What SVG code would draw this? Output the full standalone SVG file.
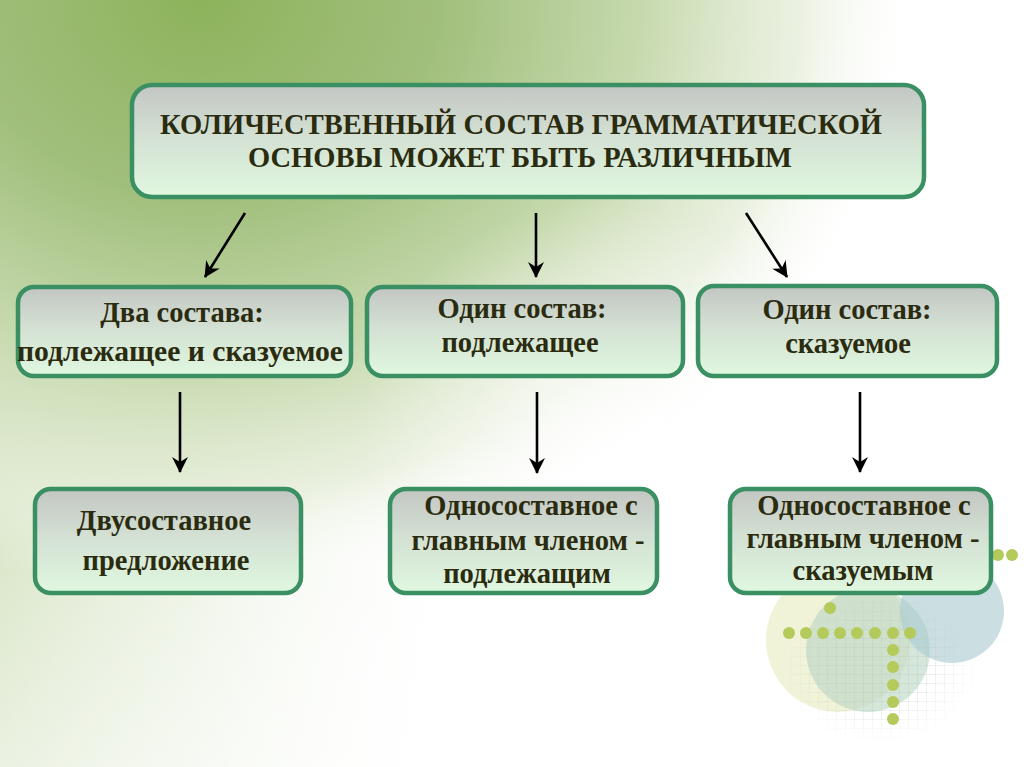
<svg xmlns="http://www.w3.org/2000/svg" width="1024" height="767" viewBox="0 0 1024 767">
<defs>
<radialGradient id="bg" cx="200" cy="0" r="800" gradientUnits="userSpaceOnUse" gradientTransform="translate(200 0) scale(1 0.82) translate(-200 0)">
<stop offset="0" stop-color="#8db35c"/>
<stop offset="0.3" stop-color="#a1bf7c"/>
<stop offset="0.55" stop-color="#c6d9ad"/>
<stop offset="0.75" stop-color="#e2ebd4" stop-opacity="0.7"/>
<stop offset="0.9" stop-color="#ffffff" stop-opacity="0"/>
</radialGradient>
<linearGradient id="left" x1="0" y1="0" x2="560" y2="80" gradientUnits="userSpaceOnUse">
<stop offset="0" stop-color="#cfdfb8"/>
<stop offset="0.5" stop-color="#e4edd8" stop-opacity="0.6"/>
<stop offset="1" stop-color="#ffffff" stop-opacity="0"/>
</linearGradient>
<linearGradient id="fadeb" x1="0" y1="0" x2="0" y2="1">
<stop offset="0.7" stop-color="#ffffff" stop-opacity="0"/>
<stop offset="1" stop-color="#ffffff" stop-opacity="0.4"/>
</linearGradient>
<radialGradient id="glow" cx="600" cy="440" r="240" gradientUnits="userSpaceOnUse">
<stop offset="0" stop-color="#ffffff" stop-opacity="0.7"/>
<stop offset="1" stop-color="#ffffff" stop-opacity="0"/>
</radialGradient>
<linearGradient id="boxfill" x1="0" y1="0" x2="0" y2="1">
<stop offset="0" stop-color="#c3c6c3"/>
<stop offset="0.45" stop-color="#d3e0d3"/>
<stop offset="1" stop-color="#e0f8e0"/>
</linearGradient>
<pattern id="grid" width="9" height="9" patternUnits="userSpaceOnUse">
<path d="M9 0V9M0 9H9" fill="none" stroke="#b8c4bc" stroke-width="0.8"/>
</pattern>
<radialGradient id="gridfade" cx="0.5" cy="0.5" r="0.5">
<stop offset="0.5" stop-color="#fff" stop-opacity="1"/>
<stop offset="1" stop-color="#fff" stop-opacity="0"/>
</radialGradient>
<mask id="gm"><rect x="780" y="585" width="200" height="160" fill="url(#gridfade)"/></mask>
<marker id="ah" viewBox="0 0 16 16" refX="15" refY="8" markerWidth="16" markerHeight="16" markerUnits="userSpaceOnUse" orient="auto">
<path d="M0 0 L16 8 L0 16 L5 8 Z" fill="#000"/>
</marker>
<style>
.box{fill:url(#boxfill);stroke:#3a8f63;stroke-width:4.5}
.t{font-family:"Liberation Serif","Times New Roman",serif;font-weight:bold;fill:#2b2b0f;text-anchor:middle}
.t1{font-size:30px}
.t2{font-size:28.5px}
.con{stroke:#000;stroke-width:2.6;fill:none;marker-end:url(#ah)}
.dot{fill:#b4cb5c}
</style>
</defs>
<rect width="1024" height="767" fill="#ffffff"/>
<rect width="1024" height="767" fill="url(#left)"/>
<rect width="1024" height="767" fill="url(#bg)"/>
<rect width="1024" height="767" fill="url(#glow)"/>
<rect width="1024" height="767" fill="url(#fadeb)"/>
<g id="decor">
<circle cx="838" cy="640" r="72" fill="#eef0cf" opacity="0.8"/>
<circle cx="868" cy="650" r="62" fill="#b9d5c3" opacity="0.6"/>
<circle cx="952" cy="611" r="52" fill="#a9c9d1" opacity="0.6"/>
<rect x="780" y="585" width="200" height="160" fill="url(#grid)" mask="url(#gm)" opacity="0.7"/>
<circle class="dot" cx="830" cy="608" r="6"/>
<circle class="dot" cx="789" cy="633" r="6"/>
<circle class="dot" cx="806" cy="633" r="6"/>
<circle class="dot" cx="823" cy="633" r="6"/>
<circle class="dot" cx="840" cy="633" r="6"/>
<circle class="dot" cx="857" cy="633" r="6"/>
<circle class="dot" cx="875" cy="633" r="6"/>
<circle class="dot" cx="893" cy="633" r="6"/>
<circle class="dot" cx="910" cy="633" r="6"/>
<circle class="dot" cx="893" cy="650" r="6"/>
<circle class="dot" cx="893" cy="667" r="6"/>
<circle class="dot" cx="893" cy="685" r="6"/>
<circle class="dot" cx="893" cy="702" r="6"/>
<circle class="dot" cx="893" cy="719" r="6"/>
<circle class="dot" cx="998" cy="555" r="6"/>
<circle class="dot" cx="1012" cy="555" r="6"/>
</g>
<g id="connectors">
<line class="con" x1="245" y1="213" x2="205" y2="277"/>
<line class="con" x1="536" y1="213" x2="536" y2="277"/>
<line class="con" x1="746" y1="213" x2="787" y2="277"/>
<line class="con" x1="180" y1="392" x2="180" y2="472"/>
<line class="con" x1="537" y1="392" x2="537" y2="473"/>
<line class="con" x1="860" y1="392" x2="860" y2="472"/>
</g>
<g id="top">
<rect class="box" x="132" y="85" width="792" height="112" rx="20"/>
<text class="t t1" x="521" y="134" textLength="722" lengthAdjust="spacingAndGlyphs">КОЛИЧЕСТВЕННЫЙ СОСТАВ ГРАММАТИЧЕСКОЙ</text>
<text class="t t1" x="520" y="167" textLength="544" lengthAdjust="spacingAndGlyphs">ОСНОВЫ МОЖЕТ БЫТЬ РАЗЛИЧНЫМ</text>
</g>
<g id="two">
<rect class="box" x="18" y="287" width="333" height="89" rx="16"/>
<text class="t t2" x="182" y="322">Два состава:</text>
<text class="t t2" x="180" y="361" textLength="326" lengthAdjust="spacingAndGlyphs">подлежащее и сказуемое</text>
</g>
<g id="one-subj">
<rect class="box" x="367" y="287" width="316" height="89" rx="16"/>
<text class="t t2" x="522" y="318">Один состав:</text>
<text class="t t2" x="520" y="352">подлежащее</text>
</g>
<g id="one-pred">
<rect class="box" x="698" y="286" width="299" height="90" rx="16"/>
<text class="t t2" x="847" y="319">Один состав:</text>
<text class="t t2" x="848" y="353">сказуемое</text>
</g>
<g id="twopart">
<rect class="box" x="35" y="489" width="266" height="104" rx="16"/>
<text class="t t2" x="164" y="530">Двусоставное</text>
<text class="t t2" x="166" y="570">предложение</text>
</g>
<g id="onepart-subj">
<rect class="box" x="390" y="489" width="267" height="104" rx="16"/>
<text class="t t2" x="531" y="515">Односоставное с</text>
<text class="t t2" x="528" y="550">главным членом -</text>
<text class="t t2" x="527" y="583">подлежащим</text>
</g>
<g id="onepart-pred">
<rect class="box" x="730" y="489" width="261" height="104" rx="16"/>
<text class="t t2" x="864" y="515">Односоставное с</text>
<text class="t t2" x="863" y="548">главным членом -</text>
<text class="t t2" x="863" y="580">сказуемым</text>
</g>
</svg>
